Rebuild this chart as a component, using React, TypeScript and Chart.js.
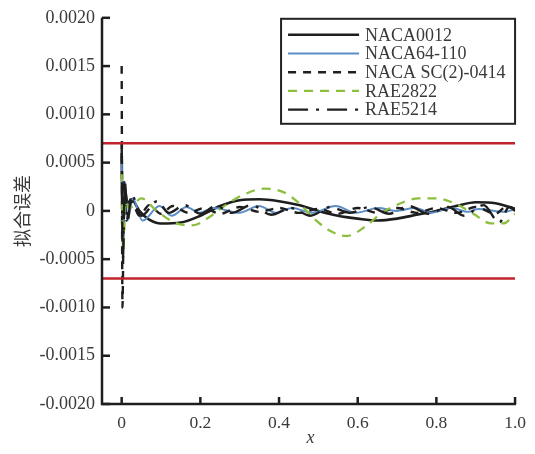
import React, { useEffect, useRef } from "react";
import { Chart, registerables } from "chart.js";

Chart.register(...registerables);

type Pt = [number, number];

// Axis ticks and threshold band
const xTicks = [0, 0.2, 0.4, 0.6, 0.8, 1.0];
const yTicks = [-0.002, -0.0015, -0.001, -0.0005, 0, 0.0005, 0.001, 0.0015, 0.002];
const toleranceBand = [0.0007, -0.0007];

const seriesNames = ["NACA0012", "NACA64-110", "NACA SC(2)-0414", "RAE2822", "RAE5214"];

// Fitting error of each airfoil along the chord, [x, error]
const naca0012: Pt[] = [
  [0, 0.0006], [0.003, -0.0003], [0.008, 0.00022], [0.015, 0.00008], [0.025, 0.00012],
  [0.045, 0.0], [0.07, -0.00009], [0.1, -0.00013], [0.15, -0.00012], [0.2, -0.00005],
  [0.25, 0.00005], [0.3, 0.00011], [0.35, 0.00012], [0.4, 0.0001], [0.45, 0.00006],
  [0.5, 0.0], [0.55, -0.00005], [0.6, -0.00008], [0.65, -0.0001], [0.7, -0.00008],
  [0.75, -0.00004], [0.8, 0.0], [0.85, 0.00005], [0.9, 0.00009], [0.95, 0.00008], [1.0, 0.00002],
];

const naca64110: Pt[] = [
  [0, 0.0006], [0.003, -0.00045], [0.008, 0.0003], [0.015, -0.0001], [0.028, 0.00013],
  [0.053, -0.0001], [0.096, 0.00005], [0.127, -0.00005], [0.165, 0.00004], [0.197, -0.00002],
  [0.235, 0.00003], [0.299, -0.00002], [0.349, 0.00005], [0.392, -0.00002], [0.433, 0.00003],
  [0.484, -0.00002], [0.544, 0.00005], [0.595, -0.00002], [0.653, 0.00003], [0.696, 0.0],
  [0.747, 0.00003], [0.787, -0.00002], [0.838, 0.00003], [0.881, -0.00001], [0.906, 0.00002],
  [0.975, -0.00001], [1.0, 0.00002],
];

const nacaSc20414: Pt[] = [
  [0, 0.0015], [0.002, -0.001], [0.006, 0.0003], [0.012, -0.0001], [0.025, 0.0001],
  [0.045, -0.00005], [0.07, 0.00006], [0.1, -0.00003], [0.13, 0.00005], [0.17, -0.00002],
  [0.21, 0.00003], [0.25, -0.00003], [0.3, 0.00004], [0.35, -0.00001], [0.4, 0.00003],
  [0.45, -0.00002], [0.5, 0.00002], [0.55, -0.00003], [0.6, 0.00003], [0.65, -0.00002],
  [0.7, 0.00003], [0.75, -0.00002], [0.8, 0.00003], [0.85, -0.00002], [0.9, 0.00004],
  [0.95, -0.00003], [0.98, 0.00005], [1.0, 0.0],
];

const rae2822: Pt[] = [
  [0, 0.0004], [0.004, -0.0004], [0.01, 0.0001], [0.02, 0.00003], [0.05, 0.00013],
  [0.089, 0.0], [0.134, -0.00012], [0.18, -0.00015], [0.228, -0.00005], [0.268, 0.00007],
  [0.311, 0.00017], [0.362, 0.00023], [0.408, 0.0002], [0.451, 0.00008], [0.484, -0.00006],
  [0.527, -0.0002], [0.572, -0.00026], [0.62, -0.00016], [0.658, -0.00003], [0.704, 0.00007],
  [0.754, 0.00013], [0.8, 0.00013], [0.851, 0.00007], [0.894, -0.00003], [0.939, -0.00013],
  [0.97, -0.00013], [1.0, -0.00003],
];

const rae5214: Pt[] = [
  [0, 0.0007], [0.003, -0.0005], [0.008, 0.0003], [0.015, -0.0001], [0.025, 0.00017],
  [0.05, -0.00005], [0.09, 0.0001], [0.12, -0.00002], [0.16, 0.00006], [0.2, -0.00003],
  [0.24, 0.00005], [0.28, -0.00002], [0.33, 0.00006], [0.38, -0.00004], [0.43, 0.00003],
  [0.48, -0.00005], [0.53, 0.00004], [0.58, -0.00002], [0.63, 0.00004], [0.68, -0.00003],
  [0.73, 0.00005], [0.78, -0.00003], [0.83, 0.00004], [0.87, -0.00005], [0.92, 0.00006],
  [0.96, -0.00012], [0.985, 0.00004], [1.0, 0.00002],
];

const INK = "#1e1e1e";
const TEXT = "#3a3a3a";
const SERIF = "'Liberation Serif', 'Times New Roman', serif";

const styles = [
  { color: INK, width: 2.6, dash: [] as number[] },
  { color: "#5b8dc8", width: 2.0, dash: [] as number[] },
  { color: INK, width: 2.4, dash: [8, 7] },
  { color: "#8cbf3f", width: 2.3, dash: [9, 7] },
  { color: INK, width: 2.4, dash: [20, 8, 3, 8] },
];

const seriesData = [naca0012, naca64110, nacaSc20414, rae2822, rae5214];

const decorPlugin = {
  id: "decor",
  afterDraw(chart: any) {
    const { ctx, chartArea, scales } = chart;
    const xs = scales.x;
    const ys = scales.y;
    const left = chartArea.left;
    const bottom = chartArea.bottom;
    const top = chartArea.top;
    const right = chartArea.right;
    ctx.save();

    // axes
    ctx.strokeStyle = INK;
    ctx.lineWidth = 2.5;
    ctx.setLineDash([]);
    ctx.beginPath();
    ctx.moveTo(left, top);
    ctx.lineTo(left, bottom);
    ctx.lineTo(right + 1, bottom);
    ctx.stroke();

    // inward tick marks
    for (const v of yTicks) {
      const y = ys.getPixelForValue(v);
      ctx.beginPath();
      ctx.moveTo(left, y);
      ctx.lineTo(left + 8, y);
      ctx.stroke();
    }
    for (const v of xTicks) {
      const x = xs.getPixelForValue(v);
      ctx.beginPath();
      ctx.moveTo(x, bottom);
      ctx.lineTo(x, bottom - 7);
      ctx.stroke();
    }

    // legend
    const bw = 234;
    const bh = 105;
    const bx = right - bw;
    const by = top + 1;
    ctx.fillStyle = "#ffffff";
    ctx.fillRect(bx, by, bw, bh);
    ctx.strokeStyle = "#222";
    ctx.lineWidth = 2;
    ctx.strokeRect(bx, by, bw, bh);
    ctx.font = `18px ${SERIF}`;
    ctx.textBaseline = "middle";
    ctx.textAlign = "left";
    seriesNames.forEach((name, i) => {
      const y = by + 16 + i * 18.7;
      const st = styles[i];
      ctx.strokeStyle = st.color;
      ctx.lineWidth = st.width;
      ctx.setLineDash(st.dash);
      ctx.beginPath();
      ctx.moveTo(bx + 7, y);
      ctx.lineTo(bx + 78, y);
      ctx.stroke();
      ctx.setLineDash([]);
      ctx.fillStyle = TEXT;
      ctx.fillText(name, bx + 84, y + 1);
    });

    // axis titles
    ctx.fillStyle = TEXT;
    ctx.font = `18px 'Noto Sans CJK SC', sans-serif`;
    ctx.textAlign = "center";
    ctx.textBaseline = "middle";
    ctx.save();
    ctx.translate(22, (top + bottom) / 2);
    ctx.rotate(-Math.PI / 2);
    ctx.fillText("拟合误差", 0, 0);
    ctx.restore();
    ctx.font = `italic 18px ${SERIF}`;
    ctx.fillText("x", (left + right) / 2 + 2, bottom + 34);

    ctx.restore();
  },
};

export default function App() {
  const canvasRef = useRef<HTMLCanvasElement | null>(null);

  useEffect(() => {
    const canvas = canvasRef.current;
    if (!canvas) return;

    const curveSets = seriesData.map((pts, i) => ({
      label: seriesNames[i],
      data: pts.map(([x, y]) => ({ x, y })),
      borderColor: styles[i].color,
      borderWidth: styles[i].width,
      borderDash: styles[i].dash,
      pointRadius: 0,
      fill: false,
      cubicInterpolationMode: "monotone" as const,
    }));

    const bandSets = toleranceBand.map((v) => ({
      label: "band",
      data: [
        { x: -0.05, y: v },
        { x: 1.0, y: v },
      ],
      borderColor: "#c0232b",
      borderWidth: 2.5,
      pointRadius: 0,
      fill: false,
    }));

    const chart = new Chart(canvas, {
      type: "line",
      data: { datasets: [...bandSets, ...curveSets.slice().reverse()] as any },
      options: {
        animation: false,
        responsive: false,
        devicePixelRatio: 1,
        layout: { padding: { top: 15, right: 18, left: 0, bottom: 0 } },
        plugins: { legend: { display: false }, tooltip: { enabled: false } },
        scales: {
          x: {
            type: "linear",
            min: -0.05,
            max: 1.0,
            grid: { display: false, drawTicks: false },
            border: { display: false },
            afterBuildTicks: (scale: any) => {
              scale.ticks = xTicks.map((v) => ({ value: v }));
            },
            afterFit: (scale: any) => {
              scale.height = 50;
            },
            ticks: {
              padding: 9,
              color: TEXT,
              font: { family: SERIF, size: 17.5 },
              maxRotation: 0,
              callback: (v: any) => (Number(v) === 0 ? "0" : Number(v).toFixed(1)),
            },
          },
          y: {
            type: "linear",
            min: -0.002,
            max: 0.002,
            grid: { display: false, drawTicks: false },
            border: { display: false },
            afterBuildTicks: (scale: any) => {
              scale.ticks = yTicks.map((v) => ({ value: v }));
            },
            afterFit: (scale: any) => {
              scale.width = 102;
            },
            ticks: {
              padding: 7,
              color: TEXT,
              font: { family: SERIF, size: 18 },
              callback: (v: any) => {
                const n = Math.round(Number(v) * 10000) / 10000;
                return n === 0 ? "0" : n.toFixed(4);
              },
            },
          },
        },
      },
      plugins: [decorPlugin],
    });

    return () => chart.destroy();
  }, []);

  return (
    <div style={{ position: "fixed", left: 0, top: 0, width: 535, height: 454, background: "#fff" }}>
      <canvas ref={canvasRef} width={535} height={454} style={{ display: "block", width: 535, height: 454 }} />
    </div>
  );
}
